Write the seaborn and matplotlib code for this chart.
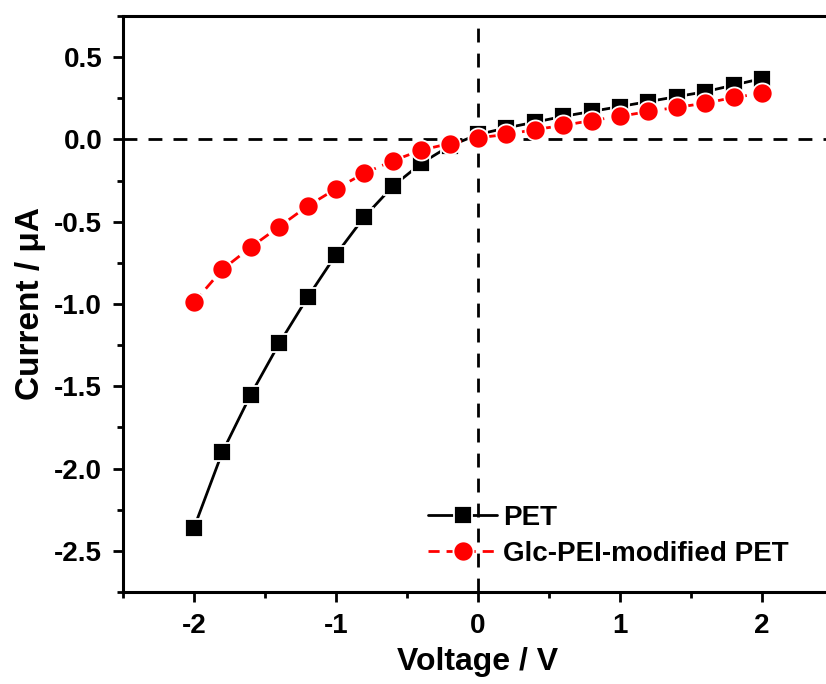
import numpy as np
import pandas as pd
import matplotlib
matplotlib.use("Agg")
import matplotlib.pyplot as plt
import seaborn as sns

voltage = [-2.0, -1.8, -1.6, -1.4, -1.2, -1.0, -0.8, -0.6, -0.4, -0.2, 0.0,
           0.2, 0.4, 0.6, 0.8, 1.0, 1.2, 1.4, 1.6, 1.8, 2.0]
pet_current = [-2.36, -1.90, -1.55, -1.24, -0.96, -0.70, -0.47, -0.285, -0.145, -0.04, 0.03,
               0.07, 0.105, 0.14, 0.17, 0.20, 0.23, 0.26, 0.29, 0.33, 0.37]
glc_current = [-0.99, -0.79, -0.655, -0.53, -0.405, -0.30, -0.205, -0.13, -0.065, -0.025, 0.01,
               0.03, 0.06, 0.085, 0.115, 0.14, 0.17, 0.195, 0.22, 0.255, 0.28]
labels = ["PET", "Glc-PEI-modified PET"]

sns.set_style("ticks")
plt.rcParams['font.family'] = ['Liberation Sans', 'DejaVu Sans']
plt.rcParams['font.weight'] = 'bold'
plt.rcParams['text.color'] = 'black'
plt.rcParams['axes.labelcolor'] = 'black'
plt.rcParams['xtick.color'] = 'black'
plt.rcParams['ytick.color'] = 'black'

fig = plt.figure(figsize=(8.26, 6.84), dpi=100)
ax = fig.add_axes([123/826, 92/684, 710/826, 576/684])

ax.axhline(0, color='black', lw=2, ls=(0, (5, 4)), zorder=1)
ax.axvline(0, color='black', lw=2, ls=(0, (5, 4)), zorder=1)

sns.lineplot(x=voltage, y=pet_current, ax=ax, color='black', marker='s', markersize=13,
             markeredgecolor='white', markeredgewidth=1.3, linewidth=2, label=labels[0], zorder=3)
sns.lineplot(x=voltage, y=glc_current, ax=ax, color='#ff0000', marker='o', markersize=14.5,
             markeredgecolor='white', markeredgewidth=1.3, linewidth=2, linestyle=(0, (4, 2.5)),
             label=labels[1], zorder=4)

ax.set_xlim(-2.5, 2.5)
ax.set_ylim(-2.75, 0.75)
ax.set_xticks([-2, -1, 0, 1, 2])
ax.set_xticklabels(['-2', '-1', '0', '1', '2'])
ax.set_yticks([0.5, 0.0, -0.5, -1.0, -1.5, -2.0, -2.5])
ax.set_yticklabels(['0.5', '0.0', '-0.5', '-1.0', '-1.5', '-2.0', '-2.5'])
ax.set_xticks(np.arange(-2.5, 2.6, 0.5), minor=True)
ax.set_yticks(np.arange(-2.75, 0.76, 0.25), minor=True)

for s in ['left', 'bottom', 'top', 'right']:
    ax.spines[s].set_linewidth(2.2)
    ax.spines[s].set_color('black')

ax.tick_params(axis='both', which='major', direction='out', length=7, width=2,
               labelsize=20, color='black', labelcolor='black', pad=8)
ax.tick_params(axis='both', which='minor', direction='out', length=4, width=2, color='black')
for lab in ax.get_xticklabels() + ax.get_yticklabels():
    lab.set_fontweight('bold')

ax.set_xlabel('Voltage / V', fontsize=23, fontweight='bold', labelpad=6, color='black')
ax.set_ylabel('Current / μA', fontsize=24, fontweight='bold', labelpad=6, color='black')

leg = ax.legend(loc='lower left', bbox_to_anchor=(0.41, 0.02), frameon=False,
                handlelength=2.5, handletextpad=0.2, labelspacing=0.36,
                prop={'size': 20, 'weight': 'bold'}, borderpad=0)
for t in leg.get_texts():
    t.set_color('black')

fig.savefig('out.png', dpi=100)
